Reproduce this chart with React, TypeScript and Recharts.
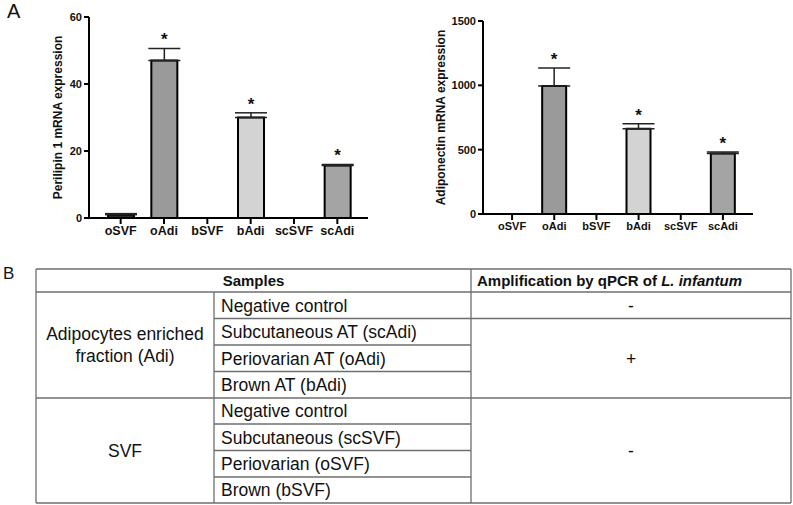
import React from 'react';
import { BarChart, Bar, XAxis, YAxis, ErrorBar, Cell, LabelList } from 'recharts';

const FONT = '"Liberation Sans", Arial, Helvetica, sans-serif';

// ---------- data ----------
const categories = ['oSVF', 'oAdi', 'bSVF', 'bAdi', 'scSVF', 'scAdi'];
const perilipinMean = [1, 47, 0, 30, 0, 15.7];
const perilipinErr = [0.3, 3.6, 0, 1.4, 0, 0.3];
const adiponectinMean = [0, 995, 0, 662, 0, 470];
const adiponectinErr = [0, 140, 0, 40, 0, 12];
const significant = [false, true, false, true, false, true];
const perilipinTicks = [0, 20, 40, 60];
const adiponectinTicks = [0, 500, 1000, 1500];
const axisTitles = ['Perilipin 1 mRNA expression', 'Adiponectin mRNA expression'];
const panelLetters = ['A', 'B'];

const tableHeader = ['Samples', 'Amplification by qPCR of ', 'L. infantum'];
const groupAdi = ['Adipocytes enriched', 'fraction (Adi)'];
const groupSvf = ['SVF'];
const adiSamples = ['Negative control', 'Subcutaneous AT (scAdi)', 'Periovarian AT (oAdi)', 'Brown AT (bAdi)'];
const svfSamples = ['Negative control', 'Subcutaneous (scSVF)', 'Periovarian (oSVF)', 'Brown (bSVF)'];
const amplification = ['-', '+', '-'];

// ---------- styles ----------
const barFills = ['#2a2a2a', '#9a9a9a', '#d3d3d3', '#d3d3d3', '#a4a4a4', '#a4a4a4'];

type Row = { name: string; mean: number; errVal: number; err?: number[]; sig: boolean };

function buildRows(means: number[], errs: number[]): Row[] {
  return categories.map((c, i) => ({
    name: c,
    mean: means[i],
    errVal: errs[i],
    err: errs[i] > 0 ? [0, errs[i]] : undefined,
    sig: significant[i],
  }));
}

const leftRows = buildRows(perilipinMean, perilipinErr);
const rightRows = buildRows(adiponectinMean, adiponectinErr);

const makeStar = (rows: Row[]) => (p: any) => {
  const vb = p.viewBox && p.viewBox.width !== undefined ? p.viewBox : p;
  const { x, y, width, height } = vb;
  const d = rows.find((r) => r.name === p.value);
  if (!d || !d.sig) return null;
  const h = Math.abs(height);
  const top = Math.min(y, y + height);
  const errPx = d.mean ? (h * d.errVal) / d.mean : 0;
  return (
    <text
      x={x + width / 2}
      y={top - errPx - 3}
      textAnchor="middle"
      fontFamily={FONT}
      fontWeight="bold"
      fontSize={17}
      fill="#111"
    >
      *
    </text>
  );
};

function Panel(props: {
  rows: Row[];
  domain: [number, number];
  ticks: number[];
  margin: { top: number; right: number; bottom: number; left: number };
  width: number;
  height: number;
  xHeight: number;
  barSize: number;
  catFont: number;
  pad: { left: number; right: number };
}) {
  const { rows } = props;
  const axisStroke = { stroke: '#000', strokeWidth: 2 };
  return (
    <BarChart width={props.width} height={props.height} data={rows} margin={props.margin}>
      <XAxis
        dataKey="name"
        interval={0}
        axisLine={axisStroke}
        tickLine={axisStroke}
        tickSize={6}
        tickMargin={2}
        height={props.xHeight}
        padding={props.pad}
        tick={{ fill: '#111', fontSize: props.catFont, fontWeight: 'bold', fontFamily: FONT }}
      />
      <YAxis
        domain={props.domain}
        ticks={props.ticks}
        width={60}
        axisLine={axisStroke}
        tickLine={axisStroke}
        tickSize={5}
        tickMargin={2}
        tick={{ fill: '#111', fontSize: 11, fontWeight: 'bold', fontFamily: FONT }}
      />
      <Bar dataKey="mean" barSize={props.barSize} stroke="#000" strokeWidth={2} isAnimationActive={false}>
        {rows.map((r, i) => (
          <Cell key={r.name} fill={barFills[i]} />
        ))}
        <ErrorBar dataKey="err" width={16} stroke="#222" strokeWidth={1.5} direction="y" />
        <LabelList dataKey="name" content={makeStar(rows)} />
      </Bar>
    </BarChart>
  );
}

function Table() {
  const L = 36, C1 = 214, C2 = 471, R = 791;
  const rows = [269, 292, 318.5, 345, 371.5, 398, 424, 450.5, 477, 503];
  const line = '#6e6e6e';
  const sw = 1.3;
  const fs = 17.5;
  const base = (top: number, bottom: number) => (top + bottom) / 2 + 0.36 * fs;
  const hLines: [number, number, number][] = [
    [L, R, rows[0]],
    [L, R, rows[1]],
    [C1, C2, rows[2]],
    [C2, R, rows[2]],
    [C1, C2, rows[3]],
    [C1, C2, rows[4]],
    [L, R, rows[5]],
    [C1, C2, rows[6]],
    [C1, C2, rows[7]],
    [C1, C2, rows[8]],
    [L, R, rows[9]],
  ];
  const vLines: [number, number, number][] = [
    [L, rows[0], rows[9]],
    [C1, rows[1], rows[9]],
    [C2, rows[0], rows[9]],
    [R, rows[0], rows[9]],
  ];
  const adiMid = (rows[1] + rows[5]) / 2;
  const svfMid = (rows[5] + rows[9]) / 2;
  return (
    <g fontFamily={FONT} fill="#111">
      {hLines.map(([x1, x2, y], i) => (
        <line key={'h' + i} x1={x1} x2={x2} y1={y} y2={y} stroke={line} strokeWidth={sw} />
      ))}
      {vLines.map(([x, y1, y2], i) => (
        <line key={'v' + i} x1={x} x2={x} y1={y1} y2={y2} stroke={line} strokeWidth={sw} />
      ))}
      <text x={(L + C2) / 2} y={(rows[0] + rows[1]) / 2 + 0.36 * 15} textAnchor="middle" fontWeight="bold" fontSize={15}>
        {tableHeader[0]}
      </text>
      <text x={C2 + 6} y={(rows[0] + rows[1]) / 2 + 0.36 * 15} fontWeight="bold" fontSize={15}>
        {tableHeader[1]}
        <tspan fontStyle="italic">{tableHeader[2]}</tspan>
      </text>
      {groupAdi.map((t, i) => (
        <text key={t} x={(L + C1) / 2} y={adiMid + 0.36 * fs + (i - 0.5) * 22} textAnchor="middle" fontSize={fs}>
          {t}
        </text>
      ))}
      {groupSvf.map((t) => (
        <text key={t} x={(L + C1) / 2} y={svfMid + 0.36 * fs} textAnchor="middle" fontSize={fs}>
          {t}
        </text>
      ))}
      {adiSamples.map((t, i) => (
        <text key={'a' + i} x={C1 + 7} y={base(rows[1 + i], rows[2 + i])} fontSize={fs}>
          {t}
        </text>
      ))}
      {svfSamples.map((t, i) => (
        <text key={'s' + i} x={C1 + 7} y={base(rows[5 + i], rows[6 + i])} fontSize={fs}>
          {t}
        </text>
      ))}
      <text x={(C2 + R) / 2} y={base(rows[1], rows[2])} textAnchor="middle" fontSize={fs}>
        {amplification[0]}
      </text>
      <text x={(C2 + R) / 2} y={base(rows[2], rows[5])} textAnchor="middle" fontSize={fs}>
        {amplification[1]}
      </text>
      <text x={(C2 + R) / 2} y={base(rows[5], rows[9])} textAnchor="middle" fontSize={fs}>
        {amplification[2]}
      </text>
    </g>
  );
}

function RotTitle({ x, y, text }: { x: number; y: number; text: string }) {
  return (
    <text
      x={x}
      y={y}
      transform={`rotate(-90 ${x} ${y})`}
      textAnchor="middle"
      dominantBaseline="central"
      fontFamily={FONT}
      fontWeight="bold"
      fontSize={12}
      fill="#111"
    >
      {text}
    </text>
  );
}

export default function App() {
  return (
    <div style={{ position: 'absolute', left: 0, top: 0, width: 793, height: 505, background: '#fff', overflow: 'hidden' }}>
      <div style={{ position: 'absolute', left: 0, top: 0 }}>
        <Panel
          rows={leftRows}
          domain={[0, 60]}
          ticks={perilipinTicks}
          margin={{ top: 17, right: 32, bottom: 0, left: 29 }}
          width={400}
          height={245}
          xHeight={27}
          barSize={26}
          catFont={12.5}
          pad={{ left: 10, right: 9 }}
        />
      </div>
      <div style={{ position: 'absolute', left: 400, top: 0 }}>
        <Panel
          rows={rightRows}
          domain={[0, 1500]}
          ticks={adiponectinTicks}
          margin={{ top: 21, right: 40, bottom: 0, left: 23 }}
          width={393}
          height={245}
          xHeight={31}
          barSize={24}
          catFont={11}
          pad={{ left: 8, right: 9 }}
        />
      </div>
      <svg width={793} height={505} style={{ position: 'absolute', left: 0, top: 0, pointerEvents: 'none' }}>
        <RotTitle x={57.5} y={117.5} text={axisTitles[0]} />
        <RotTitle x={441} y={117.5} text={axisTitles[1]} />
        <text x={7} y={18} fontFamily={FONT} fontSize={20} fill="#111">{panelLetters[0]}</text>
        <text x={3} y={279} fontFamily={FONT} fontSize={17} fill="#111">{panelLetters[1]}</text>
        <Table />
      </svg>
    </div>
  );
}
